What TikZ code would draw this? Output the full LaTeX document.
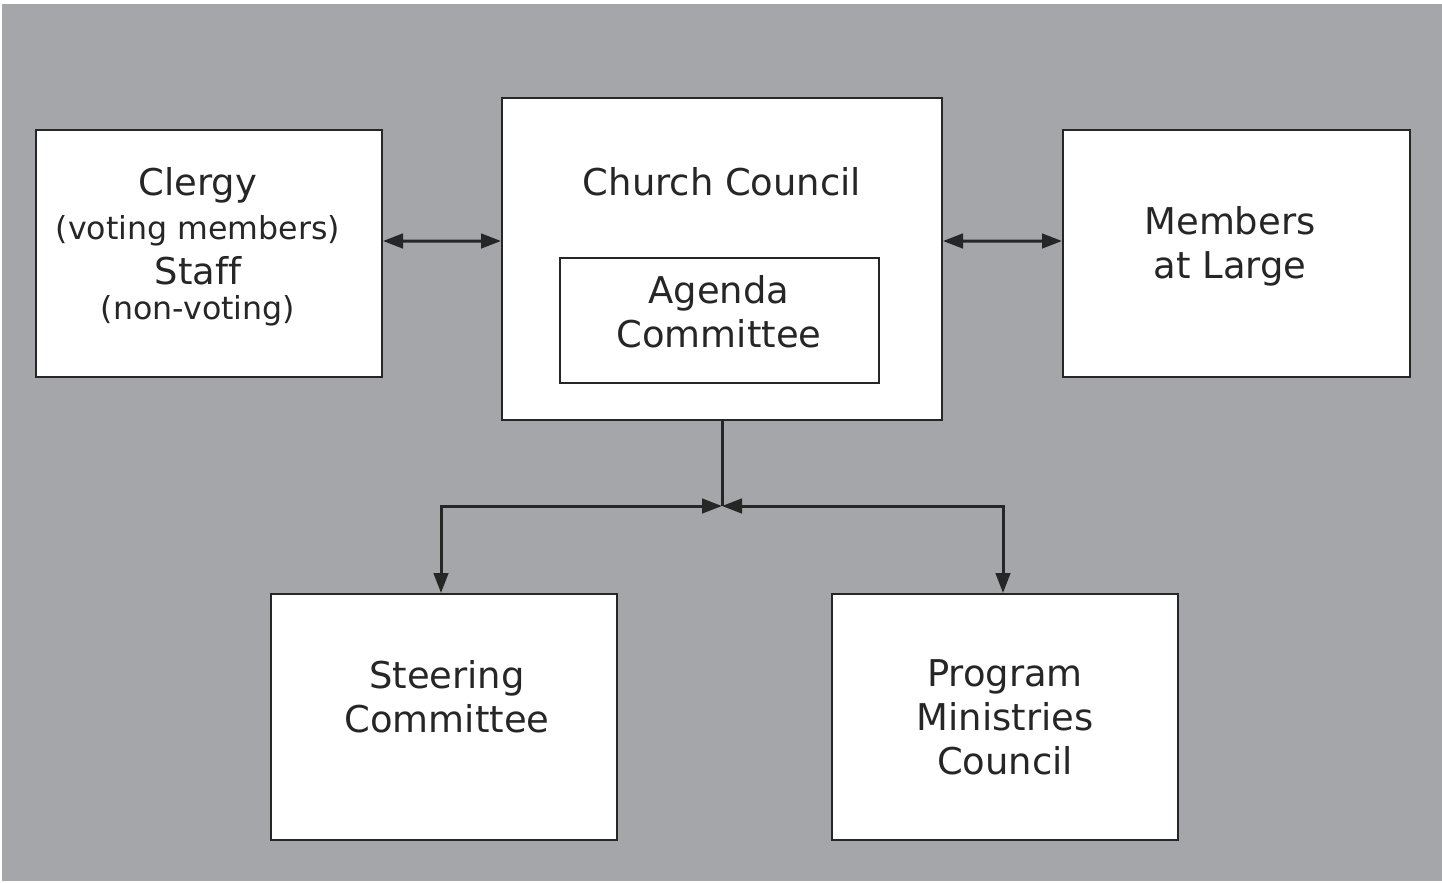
\documentclass[tikz,border=0pt]{standalone}
\usepackage{fontspec}
\setmainfont[Ligatures=NoCommon]{DejaVu Sans}
\usetikzlibrary{arrows.meta}
\usepackage{xcolor}
\definecolor{panelgray}{RGB}{165,166,170}

\begin{document}
\begin{tikzpicture}[unitbox/.style={shape=rectangle,
      draw=black!85,
      line width=0.2mm,
      fill=white,
      inner sep=0pt},
    boxtext/.style={align=center,
      text=black!85,
      font=\fontsize{10.5}{12.5}\selectfont},
    link/.style={{Triangle[length=2mm,width=1.45mm]}-{Triangle[length=2mm,width=1.45mm]},
      line width=0.3mm,draw=black!85}]
    %\draw[help lines] (0,0) grid (14,8); % Only for Development
    \useasboundingbox (0,0) rectangle (14.42,8.82);
    \fill[panelgray] (0.02,0.01) rectangle (14.42,8.78);

    % top row
    \node[unitbox,
      minimum height = 2.47cm,
      minimum width = 3.46cm] (clergy) at (2.09,6.285) {};
    \node[boxtext] (clergytxt) at (1.98,6.35)
      {Clergy\\{\fontsize{9}{11}\selectfont (voting members)}\\[0.3pt]
       Staff\\[-2.5pt]{\fontsize{9}{11}\selectfont (non-voting)}};

    \node[unitbox,
      minimum height = 3.22cm,
      minimum width = 4.40cm] (council) at (7.22,6.23) {};
    \node[boxtext,anchor=base] (counciltxt) at (7.22,6.87) {Church Council};
    \node[unitbox,
      minimum height = 1.25cm,
      minimum width = 3.19cm] (agenda) at (7.195,5.615) {};
    \node[boxtext] (agendatxt) at (7.19,5.70) {Agenda\\Committee};

    \node[unitbox,
      minimum height = 2.47cm,
      minimum width = 3.47cm] (members) at (12.365,6.285) {};
    \node[boxtext] (memberstxt) at (12.30,6.36) {Members\\at Large};

    % bottom row
    \node[unitbox,
      minimum height = 2.46cm,
      minimum width = 3.46cm] (steering) at (4.44,1.65) {};
    \node[boxtext] (steeringtxt) at (4.47,1.855) {Steering\\Committee};

    \node[unitbox,
      minimum height = 2.46cm,
      minimum width = 3.46cm] (program) at (10.05,1.65) {};
    \node[boxtext] (programtxt) at (10.05,1.65) {Program\\Ministries\\Council};

    % connectors
    \coordinate (hub) at (7.22,3.76);
    \draw[link] ([yshift=1.25mm]clergy.east) -- ([yshift=1.8mm]council.west);
    \draw[link] ([yshift=1.8mm]council.east) -- ([yshift=1.25mm]members.west);
    \draw[line width=0.3mm,draw=black!85] (council.south) -- (hub);
    \draw[link] (hub) -| ([xshift=-0.3mm]steering.north);
    \draw[link] (hub) -| ([xshift=-0.2mm]program.north);

  \end{tikzpicture}
\end{document}
